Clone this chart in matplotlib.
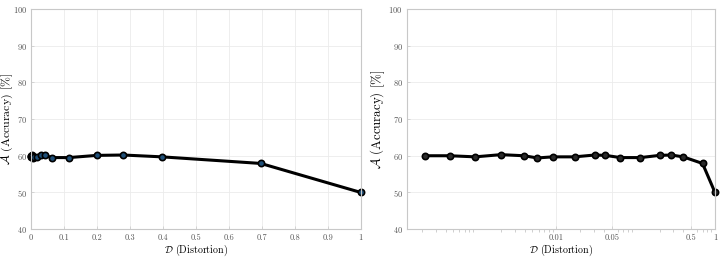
import numpy as np
import matplotlib
matplotlib.use('Agg')
import matplotlib.pyplot as plt
from matplotlib.ticker import FixedLocator, FixedFormatter, NullFormatter

plt.rcParams['font.family'] = ['cmr10', 'DejaVu Serif']
plt.rcParams['mathtext.fontset'] = 'cm'
plt.rcParams['axes.formatter.use_mathtext'] = True

# datos
distorsion = [2.2e-4, 4.5e-4, 9.5e-4, 2.0e-3, 3.9e-3, 5.75e-3, 9.0e-3, 0.017, 0.0305,
              0.0416, 0.064, 0.115, 0.2, 0.28, 0.397, 0.697, 1.0]
precision = [60.0, 60.0, 59.7, 60.3, 60.0, 59.4, 59.7, 59.7, 60.2,
             60.1, 59.5, 59.5, 60.1, 60.2, 59.7, 57.9, 50.0]

fig = plt.figure(figsize=(7.2, 2.58), dpi=100)
ax1 = fig.add_axes([0.043, 0.112, 0.458, 0.853])
ax2 = fig.add_axes([0.565, 0.112, 0.428, 0.853])

gris = '#c8c8c8'
for ax in (ax1, ax2):
    ax.set_ylim(40, 100)
    ax.set_yticks(np.arange(40, 101, 10))
    ax.grid(True, color='#ebebeb', linewidth=0.6)
    for s in ax.spines.values():
        s.set_color(gris)
        s.set_linewidth(0.8)
    ax.tick_params(labelsize=6, colors='#555555', length=2, width=0.5, direction='in', pad=3)
    ax.tick_params(axis='both', which='both', color=gris)
    ax.set_xlabel(r'$\mathcal{D}$ (Distortion)', fontsize=7.2, labelpad=0.5)
    ax.set_ylabel(r'$\mathcal{A}$ (Accuracy) [%]', fontsize=9.3, labelpad=1)
# la etiqueta izquierda queda muy pegada al borde
ax1.set_ylabel(r'$\mathcal{A}$ (Accuracy) [%]', fontsize=8.6, labelpad=-1.5)

ax1.plot(distorsion, precision, color='black', linewidth=2.2, marker='o', markersize=4.5,
         markerfacecolor='#1f4f78', markeredgecolor='black', markeredgewidth=1.2, clip_on=False)
ax1.set_xlim(0, 1)
ax1.set_xticks(np.arange(0, 1.01, 0.1))
ax1.set_xticklabels(['0', '0.1', '0.2', '0.3', '0.4', '0.5', '0.6', '0.7', '0.8', '0.9', '1'])

ax2.plot(distorsion, precision, color='black', linewidth=2.2, marker='o', markersize=4.5,
         markerfacecolor='#2a2a2a', markeredgecolor='black', markeredgewidth=1.2, clip_on=False)
ax2.set_xscale('log')
ax2.set_xlim(1.3e-4, 1.0)
ax2.xaxis.set_major_locator(FixedLocator([0.01, 0.05, 0.5, 1]))
ax2.xaxis.set_major_formatter(FixedFormatter(['0.01', '0.05', '0.5', '1']))
ax2.xaxis.set_minor_formatter(NullFormatter())

plt.savefig('out.png', dpi=100)
